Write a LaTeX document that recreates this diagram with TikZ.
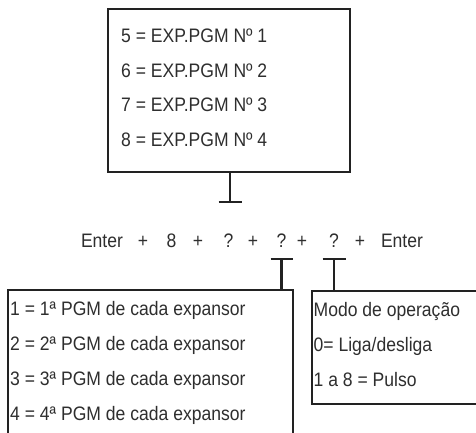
\documentclass[tikz,border=0pt]{standalone}
\usepackage{fontspec}
\setmainfont{Liberation Sans}[FakeStretch=0.9]
\definecolor{ink}{HTML}{2E2E2E}
\definecolor{rule}{HTML}{222222}
\tikzset{
  box/.style={draw=rule, line width=2.3bp, inner sep=0pt},
  row/.style={anchor=base west, inner sep=0pt, text=ink, font=\fontsize{19.5bp}{22bp}\selectfont},
  key/.style={anchor=base, inner sep=0pt, text=ink, font=\fontsize{19.5bp}{22bp}\selectfont},
  tee/.style={draw=rule, line width=2.3bp},
}
\begin{document}
\begin{tikzpicture}[x=1bp,y=-1bp]
  % Frame
  \clip (0,0) rectangle (476,432);
  % Expander box
  \node[box, minimum width=242bp, minimum height=163bp] (exp) at (229,90.5) {};
  \node[row] (e1) at (121,42) {5 = EXP.PGM Nº 1};
  \node[row] (e2) at (121,77) {6 = EXP.PGM Nº 2};
  \node[row] (e3) at (121,111) {7 = EXP.PGM Nº 3};
  \node[row] (e4) at (121,146) {8 = EXP.PGM Nº 4};
  % Key sequence
  \node[key] (k1) at (102,247) {Enter};
  \node[key] (p1) at (143,247) {+};
  \node[key] (k8) at (171.5,247) {8};
  \node[key] (p2) at (198,247) {+};
  \node[key] (q1) at (228.5,247) {?};
  \node[key] (p3) at (253,247) {+};
  \node[key] (q2) at (281.5,247) {?};
  \node[key] (p4) at (302,247) {+};
  \node[key] (q3) at (334,247) {?};
  \node[key] (p5) at (360,247) {+};
  \node[key] (k2) at (402,247) {Enter};
  % PGM box
  \node[box, minimum width=285bp, minimum height=170bp] (pgm) at (150.5,375) {};
  \node[row] (g1) at (10,315) {1 = 1ª PGM de cada expansor};
  \node[row] (g2) at (10,350) {2 = 2ª PGM de cada expansor};
  \node[row] (g3) at (10,385) {3 = 3ª PGM de cada expansor};
  \node[row] (g4) at (10,420) {4 = 4ª PGM de cada expansor};
  % Mode box
  \node[box, minimum width=198bp, minimum height=113bp] (mode) at (411,347.5) {};
  \node[row] (m1) at (313.5,316) {Modo de operação};
  \node[row] (m2) at (313.5,351) {0= Liga/desliga};
  \node[row] (m3) at (313.5,386) {1 a 8 = Pulso};
  % Tee markers
  \coordinate (t1) at (230,202);
  \coordinate (t2) at (q2 |- 0,259);
  \coordinate (t3) at (q3 |- 0,259);
  \draw[tee] (exp.south -| t1) -- (t1);
  \draw[tee] ([xshift=-11.5bp]t1) -- ([xshift=11.5bp]t1);
  \draw[tee] (pgm.north -| t2) -- (t2);
  \draw[tee] ([xshift=-11bp]t2) -- ([xshift=11bp]t2);
  \draw[tee] (mode.north -| t3) -- (t3);
  \draw[tee] ([xshift=-11.5bp]t3) -- ([xshift=11.5bp]t3);
\end{tikzpicture}
\end{document}
